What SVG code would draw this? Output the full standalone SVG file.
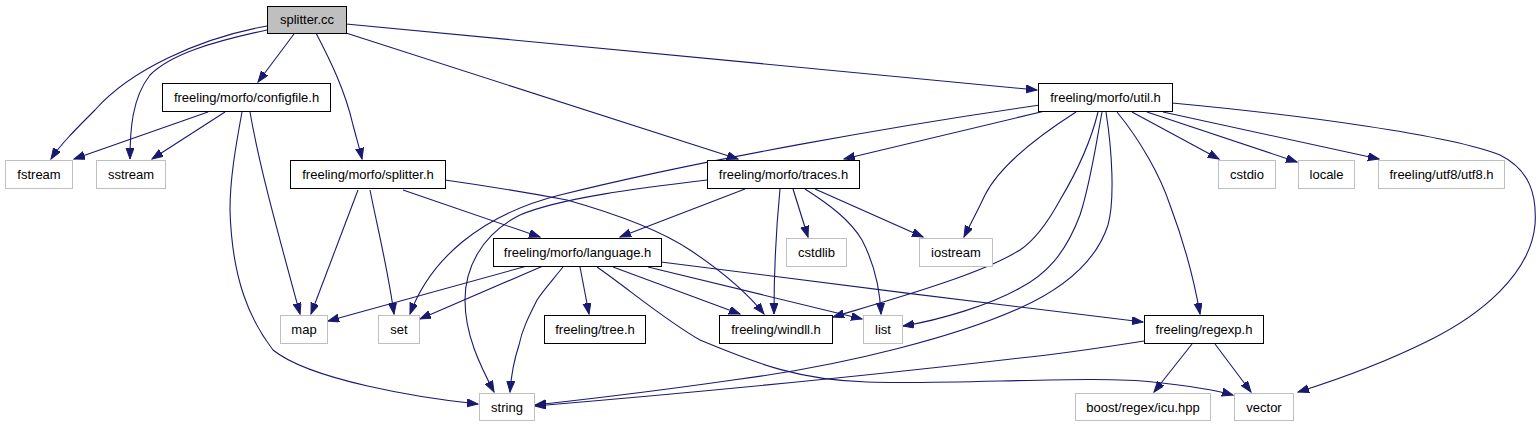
<svg xmlns="http://www.w3.org/2000/svg" width="1540" height="427" viewBox="0 0 1540 427">
<defs>
<marker id="ah" markerUnits="userSpaceOnUse" markerWidth="12" markerHeight="9" refX="11" refY="4" orient="auto"><path d="M0,0 L11,4 L0,8 z" fill="#191970" stroke="#191970" stroke-width="1"/></marker>
</defs>
<style>
.n rect{fill:#ffffff;stroke:#000000;stroke-width:1}
.s rect{fill:#ffffff;stroke:#bfbfbf;stroke-width:1}
.r rect{fill:#bfbfbf;stroke:#000000;stroke-width:1}
text{font-family:"Liberation Sans",Arial,sans-serif;font-size:13px;fill:#000;text-anchor:middle}
#edges path{fill:none;stroke:#191970;stroke-width:1.1;marker-end:url(#ah)}
</style>
<rect width="1540" height="427" fill="#ffffff"/>
<g id="edges">
<path d="M267,26 C200,38 130,70 95,110 C75,130 60,145 51,159"/>
<path d="M267,30 C210,42 170,55 150,75 C132,98 130,130 130,159"/>
<path d="M294,34 L258,82"/>
<path d="M316,33 C330,60 345,90 353,125 C357,140 360,150 362,159"/>
<path d="M346,33 L738,159"/>
<path d="M346,24 L1037,90"/>
<path d="M208,112 L74,159"/>
<path d="M225,112 L152,159"/>
<path d="M250,112 C260,170 280,240 300,314"/>
<path d="M242,112 C235,150 230,180 230,210 C232,280 250,320 273,350 C310,380 420,398 478,404"/>
<path d="M358,190 L311,314"/>
<path d="M370,190 C378,230 388,270 394,314"/>
<path d="M403,190 L540,237"/>
<path d="M445,180 C480,185 530,193 567,200 C620,215 660,230 690,250 C720,270 745,290 764,314"/>
<path d="M707,180 C640,188 560,198 520,215 C480,235 465,270 465,300 C465,335 480,365 494,392"/>
<path d="M745,189 L620,237"/>
<path d="M780,189 C776,230 774,270 774,314"/>
<path d="M793,189 L808,237"/>
<path d="M805,189 C830,205 850,220 862,240 C875,265 880,290 881,314"/>
<path d="M815,189 L923,237"/>
<path d="M1040,105 C900,125 700,160 560,195 C480,215 430,260 410,314"/>
<path d="M1045,111 L844,159"/>
<path d="M1076,112 C1040,135 1000,165 985,195 C978,210 970,225 964,237"/>
<path d="M1098,112 C1090,145 1075,175 1060,200 C1048,222 1035,240 1020,250 C980,275 890,300 833,317"/>
<path d="M1102,112 C1095,150 1090,185 1080,215 C1065,255 1045,275 1020,288 C990,305 940,320 903,326"/>
<path d="M1106,112 C1112,150 1115,200 1108,225 C1095,265 1060,290 1020,308 C960,335 850,365 733,380 C650,392 580,400 535,405"/>
<path d="M1117,112 C1140,140 1160,175 1170,205 C1185,245 1195,285 1200,314"/>
<path d="M1132,112 L1219,159"/>
<path d="M1147,112 L1297,162"/>
<path d="M1163,112 L1379,159"/>
<path d="M1172,103 C1300,115 1450,135 1500,155 C1530,170 1537,195 1535,225 C1530,275 1480,315 1430,340 C1380,365 1330,382 1298,392"/>
<path d="M527,266 L328,321"/>
<path d="M543,266 L420,319"/>
<path d="M563,267 C550,283 542,292 537,300 C528,318 522,330 519,345 C514,360 511,378 510,392"/>
<path d="M580,267 L589,314"/>
<path d="M613,267 L740,314"/>
<path d="M648,267 L862,319"/>
<path d="M597,267 C630,290 665,320 700,340 C760,365 800,380 867,382 C950,385 1100,375 1153,382 C1190,386 1215,390 1233,395"/>
<path d="M661,262 C800,280 1000,305 1143,322"/>
<path d="M1144,341 C1100,348 1050,355 1020,358 C900,372 700,392 535,406"/>
<path d="M1192,344 L1154,392"/>
<path d="M1215,344 L1251,392"/>
</g>
<g id="splitter_cc" class="r"><rect x="267.5" y="6.5" width="79" height="27"/><text x="307" y="24">splitter.cc</text></g>
<g id="configfile_h" class="n"><rect x="162.5" y="83.5" width="168" height="28"/><text x="246.5" y="101.5">freeling/morfo/configfile.h</text></g>
<g id="fstream" class="s"><rect x="5.5" y="160.5" width="67" height="28"/><text x="39" y="179">fstream</text></g>
<g id="sstream" class="s"><rect x="96.5" y="160.5" width="69" height="28"/><text x="131" y="179">sstream</text></g>
<g id="splitter_h" class="n"><rect x="290.5" y="160.5" width="155" height="28"/><text x="368" y="179">freeling/morfo/splitter.h</text></g>
<g id="traces_h" class="n"><rect x="707.5" y="160.5" width="152" height="28"/><text x="783.5" y="179">freeling/morfo/traces.h</text></g>
<g id="util_h" class="n"><rect x="1038.5" y="83.5" width="134" height="28"/><text x="1105.5" y="101.5">freeling/morfo/util.h</text></g>
<g id="cstdio" class="s"><rect x="1218.5" y="160.5" width="57" height="28"/><text x="1247" y="179">cstdio</text></g>
<g id="locale" class="s"><rect x="1298.5" y="160.5" width="56" height="28"/><text x="1326.5" y="179">locale</text></g>
<g id="utf8_h" class="s"><rect x="1378.5" y="160.5" width="126" height="28"/><text x="1441.5" y="179">freeling/utf8/utf8.h</text></g>
<g id="language_h" class="n"><rect x="493.5" y="238.5" width="168" height="28"/><text x="577.5" y="256.5">freeling/morfo/language.h</text></g>
<g id="cstdlib" class="s"><rect x="786.5" y="238.5" width="60" height="28"/><text x="816.5" y="256.5">cstdlib</text></g>
<g id="iostream" class="s"><rect x="919.5" y="238.5" width="73" height="28"/><text x="956" y="256.5">iostream</text></g>
<g id="map" class="s"><rect x="280.5" y="315.5" width="47" height="28"/><text x="304" y="334">map</text></g>
<g id="set" class="s"><rect x="378.5" y="315.5" width="41" height="28"/><text x="399" y="334">set</text></g>
<g id="tree_h" class="n"><rect x="544.5" y="315.5" width="101" height="28"/><text x="595" y="334">freeling/tree.h</text></g>
<g id="windll_h" class="n"><rect x="719.5" y="315.5" width="113" height="28"/><text x="776" y="334">freeling/windll.h</text></g>
<g id="list" class="s"><rect x="863.5" y="315.5" width="39" height="28"/><text x="883" y="334">list</text></g>
<g id="regexp_h" class="n"><rect x="1144.5" y="315.5" width="119" height="28"/><text x="1204" y="334">freeling/regexp.h</text></g>
<g id="string" class="s"><rect x="479.5" y="393.5" width="55" height="27"/><text x="507" y="411.5">string</text></g>
<g id="icu_hpp" class="s"><rect x="1075.5" y="393.5" width="135" height="27"/><text x="1143" y="411.5">boost/regex/icu.hpp</text></g>
<g id="vector" class="s"><rect x="1234.5" y="393.5" width="59" height="27"/><text x="1264" y="411.5">vector</text></g>
</svg>
